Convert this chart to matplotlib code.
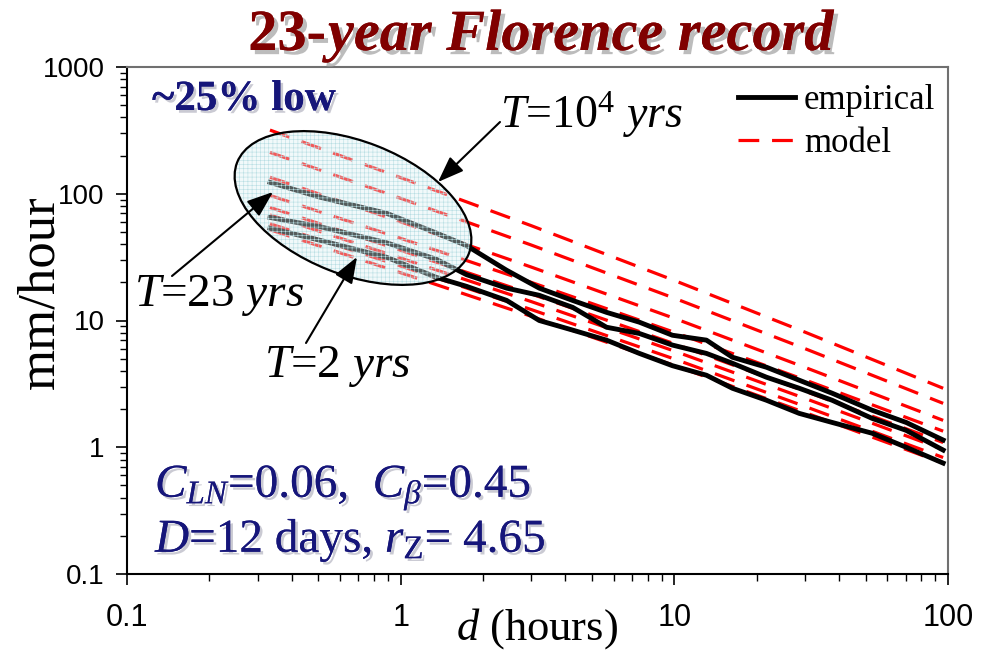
import matplotlib
matplotlib.use('Agg')
import matplotlib.pyplot as plt
from matplotlib.lines import Line2D
from matplotlib.patches import Ellipse
from matplotlib import patheffects as pe
from matplotlib.ticker import FuncFormatter, LogLocator, NullFormatter

# empirical intensity-duration curves (hours, mm/hour)
d_emp = [0.333, 0.506, 0.89, 1.35, 1.74, 2.44, 3.21, 4.25, 5.65, 7.45,
         9.84, 13.1, 16.3, 21.7, 28.6, 37.7, 52.8, 70.3, 96]
emp_23yr = [123, 94, 70, 49, 39, 24.9, 18, 14.4, 11.6, 9.7,
            7.65, 7.0, 5.13, 4.28, 3.38, 2.67, 1.96, 1.57, 1.14]
emp_mid = [65, 55, 41, 30.4, 23, 18, 15.8, 12.7, 8.85, 7.9,
           6.4, 5.5, 4.6, 3.57, 2.92, 2.35, 1.69, 1.36, 0.95]
emp_2yr = [53.5, 43, 31.5, 21.9, 18.6, 14.4, 10.0, 8.4, 7.0, 5.5,
           4.4, 3.7, 2.92, 2.35, 1.85, 1.57, 1.29, 1.0, 0.75]

# model curves, one per return period (10^4 yrs at the top)
d_model = [0.333, 1, 3, 10, 30, 96]
model_curves = [
    [318, 134, 56, 20.7, 8.1, 2.92],
    [212, 92, 39.4, 15.0, 6.0, 2.22],
    [135, 60, 26.4, 10.4, 4.27, 1.63],
    [97, 44.5, 20.0, 8.07, 3.40, 1.34],
    [78, 35.8, 16.2, 6.56, 2.77, 1.09],
    [68, 31.1, 14.1, 5.74, 2.43, 0.96],
    [58, 26.9, 12.2, 4.97, 2.10, 0.83],
    [52, 23.8, 10.8, 4.42, 1.88, 0.75],
]

W, H = 996, 662
AX_L, AX_R, AX_T, AX_B = 127, 948, 67, 574

plt.rcParams['font.family'] = ['Liberation Serif', 'DejaVu Serif']
plt.rcParams['mathtext.fontset'] = 'custom'
plt.rcParams['mathtext.rm'] = 'Liberation Serif'
plt.rcParams['mathtext.it'] = 'Liberation Serif:italic'
plt.rcParams['mathtext.bf'] = 'Liberation Serif:bold'
plt.rcParams['hatch.linewidth'] = 0.4

NAVY = '#16167a'
DARKRED = '#800000'
DASH = (0, (6.5, 4))


def ax_xy(x, y):
    return ((x - AX_L) / (AX_R - AX_L), (AX_B - y) / (AX_B - AX_T))


def fig_xy(x, y):
    return (x / W, 1 - y / H)


shadow = [pe.withSimplePatchShadow(offset=(2, -2), shadow_rgbFace='#a0a0b0', alpha=0.55), pe.Normal()]

fig = plt.figure(figsize=(W / 100, H / 100), dpi=100)
ax = fig.add_axes([AX_L / W, 1 - AX_B / H, (AX_R - AX_L) / W, (AX_B - AX_T) / H])

for curve in model_curves:
    ax.plot(d_model, curve, color='#ff0000', lw=2.3, linestyle=DASH, zorder=2)
for curve in (emp_23yr, emp_mid, emp_2yr):
    ax.plot(d_emp, curve, color='black', lw=3.5, zorder=2.5, solid_joinstyle='round')

ax.set_xscale('log')
ax.set_yscale('log')
ax.set_xlim(0.1, 100)
ax.set_ylim(0.1, 1000)
fmt = FuncFormatter(lambda v, _: f'{v:g}')
ax.xaxis.set_major_formatter(fmt)
ax.yaxis.set_major_formatter(fmt)
ax.xaxis.set_minor_locator(LogLocator(subs=range(2, 10)))
ax.yaxis.set_minor_locator(LogLocator(subs=range(2, 10)))
ax.xaxis.set_minor_formatter(NullFormatter())
ax.yaxis.set_minor_formatter(NullFormatter())
ax.tick_params(which='major', direction='out', length=8, width=1.2,
               labelfontfamily='Liberation Sans')
ax.tick_params(which='minor', direction='out', length=5, width=1.0)
ax.tick_params(axis='x', pad=13, labelsize=22)
ax.tick_params(axis='y', pad=8, labelsize=20)
for side in ('left', 'bottom'):
    ax.spines[side].set_linewidth(1.5)
for side in ('top', 'right'):
    ax.spines[side].set_color('#707070')
    ax.spines[side].set_linewidth(1.5)

ax.set_ylabel('mm/hour', fontsize=38)
ax.yaxis.set_label_coords(*ax_xy(64, 292))
ax.set_xlabel(r'$d$ (hours)', fontsize=32)
ax.xaxis.set_label_coords(*ax_xy(537, 606))

# shaded ellipse around the short-duration end
ell_kw = dict(xy=(353 / 100, (H - 208) / 100), width=2.49, height=1.33, angle=-21.5,
              transform=fig.dpi_scale_trans)
ax.add_artist(Ellipse(**ell_kw, facecolor=(0.86, 0.94, 0.95, 0.38),
                      edgecolor=(0.72, 0.87, 0.89), hatch='++++', lw=0, zorder=3))
ax.add_artist(Ellipse(**ell_kw, facecolor='none', edgecolor='black', lw=1.6, zorder=4))

arrow = dict(arrowstyle='-|>,head_length=0.8,head_width=0.3', color='black',
             facecolor='#404040', lw=1.5, shrinkA=0, shrinkB=0, mutation_scale=20)
label_kw = dict(xycoords='axes fraction', textcoords='axes fraction', zorder=5,
                arrowprops=arrow)
ax.annotate('', xy=ax_xy(438, 182), xytext=ax_xy(500, 122), **label_kw)
ax.annotate('', xy=ax_xy(273, 192), xytext=ax_xy(172, 276), **label_kw)
ax.annotate('', xy=ax_xy(357, 257), xytext=ax_xy(306, 343), **label_kw)
ax.text(*ax_xy(500, 128), r'$T$=10$^4$ $yrs$', transform=ax.transAxes,
        fontsize=33, va='baseline')
ax.text(*ax_xy(134, 306), r'$T$=23 $yrs$', transform=ax.transAxes,
        fontsize=34, va='baseline')
ax.text(*ax_xy(264, 377), r'$T$=2 $yrs$', transform=ax.transAxes,
        fontsize=34, va='baseline')

ax.text(*ax_xy(152, 110), '~25% low', transform=ax.transAxes, fontsize=31,
        fontweight='bold', color=NAVY, va='baseline', path_effects=shadow, zorder=6)
ax.text(*ax_xy(155, 497), r'$C_{LN}$=0.06,  $C_{\beta}$=0.45',
        transform=ax.transAxes, fontsize=34, color=NAVY, va='baseline', path_effects=shadow)
ax.text(*ax_xy(155, 552), r'$D$=12 days, $r_{\mathrm{Z}}$= 4.65',
        transform=ax.transAxes, fontsize=34, color=NAVY, va='baseline', path_effects=shadow)

handles = [Line2D([], [], color='black', lw=3.5),
           Line2D([], [], color='#ff0000', lw=2.3, linestyle=DASH)]
ax.legend(handles, ['empirical', 'model'], loc='upper left', bbox_to_anchor=ax_xy(738, 84),
          frameon=False, fontsize=25, handlelength=1.65, handletextpad=0.25,
          labelspacing=0.3, borderpad=0, borderaxespad=0)

# title: upright "23-" followed by italic text
title_shadow = [pe.withSimplePatchShadow(offset=(3, -3), shadow_rgbFace='#a0a0a0', alpha=0.7), pe.Normal()]
fig.text(*fig_xy(326, 50), '23-', fontsize=42, fontweight='bold', color=DARKRED,
         ha='right', va='baseline', path_effects=title_shadow)
fig.text(*fig_xy(328, 50), 'year Florence record', fontsize=42, fontweight='bold',
         fontstyle='italic', color=DARKRED, ha='left', va='baseline', path_effects=title_shadow)

fig.savefig('out.png', dpi=100)
